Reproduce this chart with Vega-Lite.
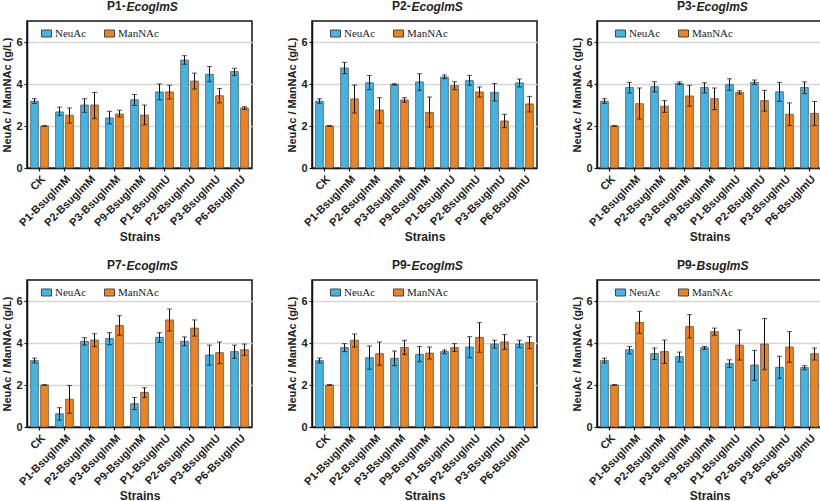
{
"$schema": "https://vega.github.io/schema/vega-lite/v6.json",
"padding": {"left": 1, "top": -1, "right": 2, "bottom": 2},
"background": "white",
"data": {"values": [
{"panel":"P1E","strain":"CK","type":"NeuAc","v":3.18,"lo":3.08,"hi":3.30},
{"panel":"P1E","strain":"CK","type":"ManNAc","v":2.00,"lo":1.99,"hi":2.01},
{"panel":"P1E","strain":"P1-BsuglmM","type":"NeuAc","v":2.67,"lo":2.50,"hi":2.90},
{"panel":"P1E","strain":"P1-BsuglmM","type":"ManNAc","v":2.51,"lo":2.14,"hi":2.86},
{"panel":"P1E","strain":"P2-BsuglmM","type":"NeuAc","v":3.00,"lo":2.65,"hi":3.30},
{"panel":"P1E","strain":"P2-BsuglmM","type":"ManNAc","v":3.00,"lo":2.35,"hi":3.60},
{"panel":"P1E","strain":"P3-BsuglmM","type":"NeuAc","v":2.38,"lo":2.10,"hi":2.70},
{"panel":"P1E","strain":"P3-BsuglmM","type":"ManNAc","v":2.57,"lo":2.43,"hi":2.75},
{"panel":"P1E","strain":"P9-BsuglmM","type":"NeuAc","v":3.25,"lo":2.98,"hi":3.50},
{"panel":"P1E","strain":"P9-BsuglmM","type":"ManNAc","v":2.52,"lo":2.06,"hi":3.00},
{"panel":"P1E","strain":"P1-BsuglmU","type":"NeuAc","v":3.62,"lo":3.25,"hi":4.00},
{"panel":"P1E","strain":"P1-BsuglmU","type":"ManNAc","v":3.62,"lo":3.29,"hi":3.94},
{"panel":"P1E","strain":"P2-BsuglmU","type":"NeuAc","v":5.14,"lo":4.94,"hi":5.35},
{"panel":"P1E","strain":"P2-BsuglmU","type":"ManNAc","v":4.14,"lo":3.76,"hi":4.52},
{"panel":"P1E","strain":"P3-BsuglmU","type":"NeuAc","v":4.46,"lo":4.11,"hi":4.83},
{"panel":"P1E","strain":"P3-BsuglmU","type":"ManNAc","v":3.44,"lo":3.10,"hi":3.79},
{"panel":"P1E","strain":"P6-BsuglmU","type":"NeuAc","v":4.59,"lo":4.40,"hi":4.75},
{"panel":"P1E","strain":"P6-BsuglmU","type":"ManNAc","v":2.86,"lo":2.79,"hi":2.92},

{"panel":"P2E","strain":"CK","type":"NeuAc","v":3.18,"lo":3.08,"hi":3.30},
{"panel":"P2E","strain":"CK","type":"ManNAc","v":2.00,"lo":1.99,"hi":2.01},
{"panel":"P2E","strain":"P1-BsuglmM","type":"NeuAc","v":4.76,"lo":4.49,"hi":5.03},
{"panel":"P2E","strain":"P1-BsuglmM","type":"ManNAc","v":3.29,"lo":2.62,"hi":3.95},
{"panel":"P2E","strain":"P2-BsuglmM","type":"NeuAc","v":4.06,"lo":3.73,"hi":4.41},
{"panel":"P2E","strain":"P2-BsuglmM","type":"ManNAc","v":2.76,"lo":2.14,"hi":3.35},
{"panel":"P2E","strain":"P3-BsuglmM","type":"NeuAc","v":3.98,"lo":3.95,"hi":4.01},
{"panel":"P2E","strain":"P3-BsuglmM","type":"ManNAc","v":3.24,"lo":3.13,"hi":3.35},
{"panel":"P2E","strain":"P9-BsuglmM","type":"NeuAc","v":4.10,"lo":3.70,"hi":4.49},
{"panel":"P2E","strain":"P9-BsuglmM","type":"ManNAc","v":2.65,"lo":1.95,"hi":3.38},
{"panel":"P2E","strain":"P1-BsuglmU","type":"NeuAc","v":4.33,"lo":4.25,"hi":4.43},
{"panel":"P2E","strain":"P1-BsuglmU","type":"ManNAc","v":3.92,"lo":3.73,"hi":4.11},
{"panel":"P2E","strain":"P2-BsuglmU","type":"NeuAc","v":4.16,"lo":3.94,"hi":4.41},
{"panel":"P2E","strain":"P2-BsuglmU","type":"ManNAc","v":3.62,"lo":3.38,"hi":3.86},
{"panel":"P2E","strain":"P3-BsuglmU","type":"NeuAc","v":3.60,"lo":3.19,"hi":4.02},
{"panel":"P2E","strain":"P3-BsuglmU","type":"ManNAc","v":2.24,"lo":1.92,"hi":2.56},
{"panel":"P2E","strain":"P6-BsuglmU","type":"NeuAc","v":4.05,"lo":3.86,"hi":4.24},
{"panel":"P2E","strain":"P6-BsuglmU","type":"ManNAc","v":3.05,"lo":2.67,"hi":3.41},

{"panel":"P3E","strain":"CK","type":"NeuAc","v":3.18,"lo":3.08,"hi":3.30},
{"panel":"P3E","strain":"CK","type":"ManNAc","v":2.00,"lo":1.99,"hi":2.01},
{"panel":"P3E","strain":"P1-BsuglmM","type":"NeuAc","v":3.83,"lo":3.57,"hi":4.08},
{"panel":"P3E","strain":"P1-BsuglmM","type":"ManNAc","v":3.06,"lo":2.33,"hi":3.81},
{"panel":"P3E","strain":"P2-BsuglmM","type":"NeuAc","v":3.87,"lo":3.62,"hi":4.11},
{"panel":"P3E","strain":"P2-BsuglmM","type":"ManNAc","v":2.94,"lo":2.65,"hi":3.21},
{"panel":"P3E","strain":"P3-BsuglmM","type":"NeuAc","v":4.03,"lo":3.97,"hi":4.10},
{"panel":"P3E","strain":"P3-BsuglmM","type":"ManNAc","v":3.43,"lo":2.94,"hi":3.94},
{"panel":"P3E","strain":"P9-BsuglmM","type":"NeuAc","v":3.83,"lo":3.57,"hi":4.06},
{"panel":"P3E","strain":"P9-BsuglmM","type":"ManNAc","v":3.30,"lo":2.78,"hi":3.81},
{"panel":"P3E","strain":"P1-BsuglmU","type":"NeuAc","v":3.97,"lo":3.70,"hi":4.25},
{"panel":"P3E","strain":"P1-BsuglmU","type":"ManNAc","v":3.60,"lo":3.52,"hi":3.68},
{"panel":"P3E","strain":"P2-BsuglmU","type":"NeuAc","v":4.08,"lo":3.97,"hi":4.19},
{"panel":"P3E","strain":"P2-BsuglmU","type":"ManNAc","v":3.21,"lo":2.71,"hi":3.70},
{"panel":"P3E","strain":"P3-BsuglmU","type":"NeuAc","v":3.63,"lo":3.17,"hi":4.08},
{"panel":"P3E","strain":"P3-BsuglmU","type":"ManNAc","v":2.56,"lo":2.02,"hi":3.10},
{"panel":"P3E","strain":"P6-BsuglmU","type":"NeuAc","v":3.83,"lo":3.54,"hi":4.10},
{"panel":"P3E","strain":"P6-BsuglmU","type":"ManNAc","v":2.60,"lo":2.02,"hi":3.17},

{"panel":"P7E","strain":"CK","type":"NeuAc","v":3.16,"lo":3.05,"hi":3.28},
{"panel":"P7E","strain":"CK","type":"ManNAc","v":2.00,"lo":1.99,"hi":2.01},
{"panel":"P7E","strain":"P1-BsuglmM","type":"NeuAc","v":0.63,"lo":0.33,"hi":0.92},
{"panel":"P7E","strain":"P1-BsuglmM","type":"ManNAc","v":1.32,"lo":0.65,"hi":1.98},
{"panel":"P7E","strain":"P2-BsuglmM","type":"NeuAc","v":4.08,"lo":3.90,"hi":4.25},
{"panel":"P7E","strain":"P2-BsuglmM","type":"ManNAc","v":4.14,"lo":3.83,"hi":4.44},
{"panel":"P7E","strain":"P3-BsuglmM","type":"NeuAc","v":4.21,"lo":3.92,"hi":4.49},
{"panel":"P7E","strain":"P3-BsuglmM","type":"ManNAc","v":4.83,"lo":4.37,"hi":5.30},
{"panel":"P7E","strain":"P9-BsuglmM","type":"NeuAc","v":1.11,"lo":0.83,"hi":1.40},
{"panel":"P7E","strain":"P9-BsuglmM","type":"ManNAc","v":1.65,"lo":1.41,"hi":1.87},
{"panel":"P7E","strain":"P1-BsuglmU","type":"NeuAc","v":4.27,"lo":4.03,"hi":4.49},
{"panel":"P7E","strain":"P1-BsuglmU","type":"ManNAc","v":5.10,"lo":4.57,"hi":5.62},
{"panel":"P7E","strain":"P2-BsuglmU","type":"NeuAc","v":4.08,"lo":3.87,"hi":4.29},
{"panel":"P7E","strain":"P2-BsuglmU","type":"ManNAc","v":4.71,"lo":4.33,"hi":5.10},
{"panel":"P7E","strain":"P3-BsuglmU","type":"NeuAc","v":3.43,"lo":2.94,"hi":3.90},
{"panel":"P7E","strain":"P3-BsuglmU","type":"ManNAc","v":3.54,"lo":3.02,"hi":4.05},
{"panel":"P7E","strain":"P6-BsuglmU","type":"NeuAc","v":3.59,"lo":3.27,"hi":3.90},
{"panel":"P7E","strain":"P6-BsuglmU","type":"ManNAc","v":3.68,"lo":3.41,"hi":3.95},

{"panel":"P9E","strain":"CK","type":"NeuAc","v":3.16,"lo":3.05,"hi":3.28},
{"panel":"P9E","strain":"CK","type":"ManNAc","v":2.00,"lo":1.99,"hi":2.01},
{"panel":"P9E","strain":"P1-BsuglmM","type":"NeuAc","v":3.78,"lo":3.59,"hi":3.97},
{"panel":"P9E","strain":"P1-BsuglmM","type":"ManNAc","v":4.13,"lo":3.81,"hi":4.43},
{"panel":"P9E","strain":"P2-BsuglmM","type":"NeuAc","v":3.30,"lo":2.75,"hi":3.86},
{"panel":"P9E","strain":"P2-BsuglmM","type":"ManNAc","v":3.49,"lo":2.94,"hi":4.05},
{"panel":"P9E","strain":"P3-BsuglmM","type":"NeuAc","v":3.27,"lo":2.92,"hi":3.62},
{"panel":"P9E","strain":"P3-BsuglmM","type":"ManNAc","v":3.79,"lo":3.46,"hi":4.13},
{"panel":"P9E","strain":"P9-BsuglmM","type":"NeuAc","v":3.46,"lo":3.11,"hi":3.83},
{"panel":"P9E","strain":"P9-BsuglmM","type":"ManNAc","v":3.52,"lo":3.24,"hi":3.81},
{"panel":"P9E","strain":"P1-BsuglmU","type":"NeuAc","v":3.59,"lo":3.49,"hi":3.67},
{"panel":"P9E","strain":"P1-BsuglmU","type":"ManNAc","v":3.78,"lo":3.60,"hi":3.97},
{"panel":"P9E","strain":"P2-BsuglmU","type":"NeuAc","v":3.81,"lo":3.30,"hi":4.30},
{"panel":"P9E","strain":"P2-BsuglmU","type":"ManNAc","v":4.27,"lo":3.56,"hi":4.97},
{"panel":"P9E","strain":"P3-BsuglmU","type":"NeuAc","v":3.95,"lo":3.76,"hi":4.13},
{"panel":"P9E","strain":"P3-BsuglmU","type":"ManNAc","v":4.05,"lo":3.70,"hi":4.40},
{"panel":"P9E","strain":"P6-BsuglmU","type":"NeuAc","v":3.95,"lo":3.78,"hi":4.13},
{"panel":"P9E","strain":"P6-BsuglmU","type":"ManNAc","v":4.02,"lo":3.73,"hi":4.30},

{"panel":"P9B","strain":"CK","type":"NeuAc","v":3.16,"lo":3.05,"hi":3.28},
{"panel":"P9B","strain":"CK","type":"ManNAc","v":2.00,"lo":1.99,"hi":2.01},
{"panel":"P9B","strain":"P1-BsuglmM","type":"NeuAc","v":3.68,"lo":3.48,"hi":3.84},
{"panel":"P9B","strain":"P1-BsuglmM","type":"ManNAc","v":4.98,"lo":4.46,"hi":5.51},
{"panel":"P9B","strain":"P2-BsuglmM","type":"NeuAc","v":3.50,"lo":3.22,"hi":3.76},
{"panel":"P9B","strain":"P2-BsuglmM","type":"ManNAc","v":3.59,"lo":3.03,"hi":4.14},
{"panel":"P9B","strain":"P3-BsuglmM","type":"NeuAc","v":3.35,"lo":3.10,"hi":3.57},
{"panel":"P9B","strain":"P3-BsuglmM","type":"ManNAc","v":4.79,"lo":4.24,"hi":5.35},
{"panel":"P9B","strain":"P9-BsuglmM","type":"NeuAc","v":3.78,"lo":3.70,"hi":3.84},
{"panel":"P9B","strain":"P9-BsuglmM","type":"ManNAc","v":4.54,"lo":4.37,"hi":4.71},
{"panel":"P9B","strain":"P1-BsuglmU","type":"NeuAc","v":3.02,"lo":2.84,"hi":3.20},
{"panel":"P9B","strain":"P1-BsuglmU","type":"ManNAc","v":3.90,"lo":3.19,"hi":4.62},
{"panel":"P9B","strain":"P2-BsuglmU","type":"NeuAc","v":2.95,"lo":2.22,"hi":3.65},
{"panel":"P9B","strain":"P2-BsuglmU","type":"ManNAc","v":3.95,"lo":2.73,"hi":5.17},
{"panel":"P9B","strain":"P3-BsuglmU","type":"NeuAc","v":2.84,"lo":2.32,"hi":3.37},
{"panel":"P9B","strain":"P3-BsuglmU","type":"ManNAc","v":3.81,"lo":3.08,"hi":4.54},
{"panel":"P9B","strain":"P6-BsuglmU","type":"NeuAc","v":2.83,"lo":2.73,"hi":2.92},
{"panel":"P9B","strain":"P6-BsuglmU","type":"ManNAc","v":3.49,"lo":3.19,"hi":3.76}
]},
"columns": 3,
"bounds": "flush",
"spacing": {"row": 112, "column": 60},
"resolve": {"scale": {"color": "independent"}, "legend": {"color": "independent"}},
"concat": [
{"transform":[{"filter":"datum.panel==='P1E'"}],
 "title":{"text":"P1-","anchor":"start","frame":"group","dx":80,"dy":22,"offset":0,"baseline":"alphabetic"},
 "width":225,"height":147,
 "resolve":{"axis":{"x":"independent"}},
 "layer":[
  {"mark":{"type":"bar","stroke":"#555","strokeWidth":0.8},
   "encoding":{
    "x":{"field":"strain","type":"nominal","sort":["CK","P1-BsuglmM","P2-BsuglmM","P3-BsuglmM","P9-BsuglmM","P1-BsuglmU","P2-BsuglmU","P3-BsuglmU","P6-BsuglmU"],"scale":{"paddingInner":0.29,"paddingOuter":0.145},"axis":{"orient":"bottom"},"title":"Strains"},
    "xOffset":{"field":"type","type":"nominal","sort":["NeuAc","ManNAc"],"scale":{"paddingInner":0.23}},
    "y":{"field":"v","type":"quantitative","scale":{"domain":[0,7],"nice":false},"axis":{"values":[0,2,4,6]},"title":"NeuAc / ManNAc (g/L)"},
    "color":{"field":"type","type":"nominal","scale":{"domain":["NeuAc","ManNAc"],"range":["#41B6E6","#F0821E"]},"legend":{"orient":"none","legendX":14,"legendY":7,"direction":"horizontal","title":null}}}},
  {"mark":{"type":"rule","color":"#111","strokeWidth":1},
   "encoding":{
    "x":{"field":"strain","type":"nominal","sort":["CK","P1-BsuglmM","P2-BsuglmM","P3-BsuglmM","P9-BsuglmM","P1-BsuglmU","P2-BsuglmU","P3-BsuglmU","P6-BsuglmU"],"axis":{"orient":"top","domain":false,"ticks":false,"labels":false,"grid":false,"title":"EcoglmS","titleFontStyle":"italic","titleX":99,"titleY":-11,"titleAlign":"left","titleBaseline":"alphabetic","titleFontSize":12}},
    "xOffset":{"field":"type","type":"nominal","sort":["NeuAc","ManNAc"]},
    "y":{"field":"lo","type":"quantitative","title":"NeuAc / ManNAc (g/L)"},"y2":{"field":"hi"}}},
  {"mark":{"type":"tick","color":"#111","thickness":1,"size":5},
   "encoding":{
    "x":{"field":"strain","type":"nominal","sort":["CK","P1-BsuglmM","P2-BsuglmM","P3-BsuglmM","P9-BsuglmM","P1-BsuglmU","P2-BsuglmU","P3-BsuglmU","P6-BsuglmU"],"axis":null},
    "xOffset":{"field":"type","type":"nominal","sort":["NeuAc","ManNAc"]},
    "y":{"field":"lo","type":"quantitative","title":"NeuAc / ManNAc (g/L)"}}},
  {"mark":{"type":"tick","color":"#111","thickness":1,"size":5},
   "encoding":{
    "x":{"field":"strain","type":"nominal","sort":["CK","P1-BsuglmM","P2-BsuglmM","P3-BsuglmM","P9-BsuglmM","P1-BsuglmU","P2-BsuglmU","P3-BsuglmU","P6-BsuglmU"],"axis":null},
    "xOffset":{"field":"type","type":"nominal","sort":["NeuAc","ManNAc"]},
    "y":{"field":"hi","type":"quantitative","title":"NeuAc / ManNAc (g/L)"}}}
 ]},
{"transform":[{"filter":"datum.panel==='P2E'"}],
 "title":{"text":"P2-","anchor":"start","frame":"group","dx":80,"dy":22,"offset":0,"baseline":"alphabetic"},
 "width":225,"height":147,
 "resolve":{"axis":{"x":"independent"}},
 "layer":[
  {"mark":{"type":"bar","stroke":"#555","strokeWidth":0.8},
   "encoding":{
    "x":{"field":"strain","type":"nominal","sort":["CK","P1-BsuglmM","P2-BsuglmM","P3-BsuglmM","P9-BsuglmM","P1-BsuglmU","P2-BsuglmU","P3-BsuglmU","P6-BsuglmU"],"scale":{"paddingInner":0.29,"paddingOuter":0.145},"axis":{"orient":"bottom"},"title":"Strains"},
    "xOffset":{"field":"type","type":"nominal","sort":["NeuAc","ManNAc"],"scale":{"paddingInner":0.23}},
    "y":{"field":"v","type":"quantitative","scale":{"domain":[0,7],"nice":false},"axis":{"values":[0,2,4,6]},"title":"NeuAc / ManNAc (g/L)"},
    "color":{"field":"type","type":"nominal","scale":{"domain":["NeuAc","ManNAc"],"range":["#41B6E6","#F0821E"]},"legend":{"orient":"none","legendX":18,"legendY":7,"direction":"horizontal","title":null}}}},
  {"mark":{"type":"rule","color":"#111","strokeWidth":1},
   "encoding":{
    "x":{"field":"strain","type":"nominal","sort":["CK","P1-BsuglmM","P2-BsuglmM","P3-BsuglmM","P9-BsuglmM","P1-BsuglmU","P2-BsuglmU","P3-BsuglmU","P6-BsuglmU"],"axis":{"orient":"top","domain":false,"ticks":false,"labels":false,"grid":false,"title":"EcoglmS","titleFontStyle":"italic","titleX":99,"titleY":-11,"titleAlign":"left","titleBaseline":"alphabetic","titleFontSize":12}},
    "xOffset":{"field":"type","type":"nominal","sort":["NeuAc","ManNAc"]},
    "y":{"field":"lo","type":"quantitative","title":"NeuAc / ManNAc (g/L)"},"y2":{"field":"hi"}}},
  {"mark":{"type":"tick","color":"#111","thickness":1,"size":5},
   "encoding":{
    "x":{"field":"strain","type":"nominal","sort":["CK","P1-BsuglmM","P2-BsuglmM","P3-BsuglmM","P9-BsuglmM","P1-BsuglmU","P2-BsuglmU","P3-BsuglmU","P6-BsuglmU"],"axis":null},
    "xOffset":{"field":"type","type":"nominal","sort":["NeuAc","ManNAc"]},
    "y":{"field":"lo","type":"quantitative","title":"NeuAc / ManNAc (g/L)"}}},
  {"mark":{"type":"tick","color":"#111","thickness":1,"size":5},
   "encoding":{
    "x":{"field":"strain","type":"nominal","sort":["CK","P1-BsuglmM","P2-BsuglmM","P3-BsuglmM","P9-BsuglmM","P1-BsuglmU","P2-BsuglmU","P3-BsuglmU","P6-BsuglmU"],"axis":null},
    "xOffset":{"field":"type","type":"nominal","sort":["NeuAc","ManNAc"]},
    "y":{"field":"hi","type":"quantitative","title":"NeuAc / ManNAc (g/L)"}}}
 ]},
{"transform":[{"filter":"datum.panel==='P3E'"}],
 "title":{"text":"P3-","anchor":"start","frame":"group","dx":80,"dy":22,"offset":0,"baseline":"alphabetic"},
 "width":225,"height":147,
 "resolve":{"axis":{"x":"independent"}},
 "layer":[
  {"mark":{"type":"bar","stroke":"#555","strokeWidth":0.8},
   "encoding":{
    "x":{"field":"strain","type":"nominal","sort":["CK","P1-BsuglmM","P2-BsuglmM","P3-BsuglmM","P9-BsuglmM","P1-BsuglmU","P2-BsuglmU","P3-BsuglmU","P6-BsuglmU"],"scale":{"paddingInner":0.29,"paddingOuter":0.145},"axis":{"orient":"bottom"},"title":"Strains"},
    "xOffset":{"field":"type","type":"nominal","sort":["NeuAc","ManNAc"],"scale":{"paddingInner":0.23}},
    "y":{"field":"v","type":"quantitative","scale":{"domain":[0,7],"nice":false},"axis":{"values":[0,2,4,6]},"title":"NeuAc / ManNAc (g/L)"},
    "color":{"field":"type","type":"nominal","scale":{"domain":["NeuAc","ManNAc"],"range":["#41B6E6","#F0821E"]},"legend":{"orient":"none","legendX":18,"legendY":7,"direction":"horizontal","title":null}}}},
  {"mark":{"type":"rule","color":"#111","strokeWidth":1},
   "encoding":{
    "x":{"field":"strain","type":"nominal","sort":["CK","P1-BsuglmM","P2-BsuglmM","P3-BsuglmM","P9-BsuglmM","P1-BsuglmU","P2-BsuglmU","P3-BsuglmU","P6-BsuglmU"],"axis":{"orient":"top","domain":false,"ticks":false,"labels":false,"grid":false,"title":"EcoglmS","titleFontStyle":"italic","titleX":99,"titleY":-11,"titleAlign":"left","titleBaseline":"alphabetic","titleFontSize":12}},
    "xOffset":{"field":"type","type":"nominal","sort":["NeuAc","ManNAc"]},
    "y":{"field":"lo","type":"quantitative","title":"NeuAc / ManNAc (g/L)"},"y2":{"field":"hi"}}},
  {"mark":{"type":"tick","color":"#111","thickness":1,"size":5},
   "encoding":{
    "x":{"field":"strain","type":"nominal","sort":["CK","P1-BsuglmM","P2-BsuglmM","P3-BsuglmM","P9-BsuglmM","P1-BsuglmU","P2-BsuglmU","P3-BsuglmU","P6-BsuglmU"],"axis":null},
    "xOffset":{"field":"type","type":"nominal","sort":["NeuAc","ManNAc"]},
    "y":{"field":"lo","type":"quantitative","title":"NeuAc / ManNAc (g/L)"}}},
  {"mark":{"type":"tick","color":"#111","thickness":1,"size":5},
   "encoding":{
    "x":{"field":"strain","type":"nominal","sort":["CK","P1-BsuglmM","P2-BsuglmM","P3-BsuglmM","P9-BsuglmM","P1-BsuglmU","P2-BsuglmU","P3-BsuglmU","P6-BsuglmU"],"axis":null},
    "xOffset":{"field":"type","type":"nominal","sort":["NeuAc","ManNAc"]},
    "y":{"field":"hi","type":"quantitative","title":"NeuAc / ManNAc (g/L)"}}}
 ]},
{"transform":[{"filter":"datum.panel==='P7E'"}],
 "title":{"text":"P7-","anchor":"start","frame":"group","dx":80,"dy":22,"offset":0,"baseline":"alphabetic"},
 "width":225,"height":147,
 "resolve":{"axis":{"x":"independent"}},
 "layer":[
  {"mark":{"type":"bar","stroke":"#555","strokeWidth":0.8},
   "encoding":{
    "x":{"field":"strain","type":"nominal","sort":["CK","P1-BsuglmM","P2-BsuglmM","P3-BsuglmM","P9-BsuglmM","P1-BsuglmU","P2-BsuglmU","P3-BsuglmU","P6-BsuglmU"],"scale":{"paddingInner":0.29,"paddingOuter":0.145},"axis":{"orient":"bottom"},"title":"Strains"},
    "xOffset":{"field":"type","type":"nominal","sort":["NeuAc","ManNAc"],"scale":{"paddingInner":0.23}},
    "y":{"field":"v","type":"quantitative","scale":{"domain":[0,7],"nice":false},"axis":{"values":[0,2,4,6]},"title":"NeuAc / ManNAc (g/L)"},
    "color":{"field":"type","type":"nominal","scale":{"domain":["NeuAc","ManNAc"],"range":["#41B6E6","#F0821E"]},"legend":{"orient":"none","legendX":14,"legendY":7,"direction":"horizontal","title":null}}}},
  {"mark":{"type":"rule","color":"#111","strokeWidth":1},
   "encoding":{
    "x":{"field":"strain","type":"nominal","sort":["CK","P1-BsuglmM","P2-BsuglmM","P3-BsuglmM","P9-BsuglmM","P1-BsuglmU","P2-BsuglmU","P3-BsuglmU","P6-BsuglmU"],"axis":{"orient":"top","domain":false,"ticks":false,"labels":false,"grid":false,"title":"EcoglmS","titleFontStyle":"italic","titleX":99,"titleY":-11,"titleAlign":"left","titleBaseline":"alphabetic","titleFontSize":12}},
    "xOffset":{"field":"type","type":"nominal","sort":["NeuAc","ManNAc"]},
    "y":{"field":"lo","type":"quantitative","title":"NeuAc / ManNAc (g/L)"},"y2":{"field":"hi"}}},
  {"mark":{"type":"tick","color":"#111","thickness":1,"size":5},
   "encoding":{
    "x":{"field":"strain","type":"nominal","sort":["CK","P1-BsuglmM","P2-BsuglmM","P3-BsuglmM","P9-BsuglmM","P1-BsuglmU","P2-BsuglmU","P3-BsuglmU","P6-BsuglmU"],"axis":null},
    "xOffset":{"field":"type","type":"nominal","sort":["NeuAc","ManNAc"]},
    "y":{"field":"lo","type":"quantitative","title":"NeuAc / ManNAc (g/L)"}}},
  {"mark":{"type":"tick","color":"#111","thickness":1,"size":5},
   "encoding":{
    "x":{"field":"strain","type":"nominal","sort":["CK","P1-BsuglmM","P2-BsuglmM","P3-BsuglmM","P9-BsuglmM","P1-BsuglmU","P2-BsuglmU","P3-BsuglmU","P6-BsuglmU"],"axis":null},
    "xOffset":{"field":"type","type":"nominal","sort":["NeuAc","ManNAc"]},
    "y":{"field":"hi","type":"quantitative","title":"NeuAc / ManNAc (g/L)"}}}
 ]},
{"transform":[{"filter":"datum.panel==='P9E'"}],
 "title":{"text":"P9-","anchor":"start","frame":"group","dx":80,"dy":22,"offset":0,"baseline":"alphabetic"},
 "width":225,"height":147,
 "resolve":{"axis":{"x":"independent"}},
 "layer":[
  {"mark":{"type":"bar","stroke":"#555","strokeWidth":0.8},
   "encoding":{
    "x":{"field":"strain","type":"nominal","sort":["CK","P1-BsuglmM","P2-BsuglmM","P3-BsuglmM","P9-BsuglmM","P1-BsuglmU","P2-BsuglmU","P3-BsuglmU","P6-BsuglmU"],"scale":{"paddingInner":0.29,"paddingOuter":0.145},"axis":{"orient":"bottom"},"title":"Strains"},
    "xOffset":{"field":"type","type":"nominal","sort":["NeuAc","ManNAc"],"scale":{"paddingInner":0.23}},
    "y":{"field":"v","type":"quantitative","scale":{"domain":[0,7],"nice":false},"axis":{"values":[0,2,4,6]},"title":"NeuAc / ManNAc (g/L)"},
    "color":{"field":"type","type":"nominal","scale":{"domain":["NeuAc","ManNAc"],"range":["#41B6E6","#F0821E"]},"legend":{"orient":"none","legendX":18,"legendY":7,"direction":"horizontal","title":null}}}},
  {"mark":{"type":"rule","color":"#111","strokeWidth":1},
   "encoding":{
    "x":{"field":"strain","type":"nominal","sort":["CK","P1-BsuglmM","P2-BsuglmM","P3-BsuglmM","P9-BsuglmM","P1-BsuglmU","P2-BsuglmU","P3-BsuglmU","P6-BsuglmU"],"axis":{"orient":"top","domain":false,"ticks":false,"labels":false,"grid":false,"title":"EcoglmS","titleFontStyle":"italic","titleX":99,"titleY":-11,"titleAlign":"left","titleBaseline":"alphabetic","titleFontSize":12}},
    "xOffset":{"field":"type","type":"nominal","sort":["NeuAc","ManNAc"]},
    "y":{"field":"lo","type":"quantitative","title":"NeuAc / ManNAc (g/L)"},"y2":{"field":"hi"}}},
  {"mark":{"type":"tick","color":"#111","thickness":1,"size":5},
   "encoding":{
    "x":{"field":"strain","type":"nominal","sort":["CK","P1-BsuglmM","P2-BsuglmM","P3-BsuglmM","P9-BsuglmM","P1-BsuglmU","P2-BsuglmU","P3-BsuglmU","P6-BsuglmU"],"axis":null},
    "xOffset":{"field":"type","type":"nominal","sort":["NeuAc","ManNAc"]},
    "y":{"field":"lo","type":"quantitative","title":"NeuAc / ManNAc (g/L)"}}},
  {"mark":{"type":"tick","color":"#111","thickness":1,"size":5},
   "encoding":{
    "x":{"field":"strain","type":"nominal","sort":["CK","P1-BsuglmM","P2-BsuglmM","P3-BsuglmM","P9-BsuglmM","P1-BsuglmU","P2-BsuglmU","P3-BsuglmU","P6-BsuglmU"],"axis":null},
    "xOffset":{"field":"type","type":"nominal","sort":["NeuAc","ManNAc"]},
    "y":{"field":"hi","type":"quantitative","title":"NeuAc / ManNAc (g/L)"}}}
 ]},
{"transform":[{"filter":"datum.panel==='P9B'"}],
 "title":{"text":"P9-","anchor":"start","frame":"group","dx":80,"dy":22,"offset":0,"baseline":"alphabetic"},
 "width":225,"height":147,
 "resolve":{"axis":{"x":"independent"}},
 "layer":[
  {"mark":{"type":"bar","stroke":"#555","strokeWidth":0.8},
   "encoding":{
    "x":{"field":"strain","type":"nominal","sort":["CK","P1-BsuglmM","P2-BsuglmM","P3-BsuglmM","P9-BsuglmM","P1-BsuglmU","P2-BsuglmU","P3-BsuglmU","P6-BsuglmU"],"scale":{"paddingInner":0.29,"paddingOuter":0.145},"axis":{"orient":"bottom"},"title":"Strains"},
    "xOffset":{"field":"type","type":"nominal","sort":["NeuAc","ManNAc"],"scale":{"paddingInner":0.23}},
    "y":{"field":"v","type":"quantitative","scale":{"domain":[0,7],"nice":false},"axis":{"values":[0,2,4,6]},"title":"NeuAc / ManNAc (g/L)"},
    "color":{"field":"type","type":"nominal","scale":{"domain":["NeuAc","ManNAc"],"range":["#41B6E6","#F0821E"]},"legend":{"orient":"none","legendX":18,"legendY":7,"direction":"horizontal","title":null}}}},
  {"mark":{"type":"rule","color":"#111","strokeWidth":1},
   "encoding":{
    "x":{"field":"strain","type":"nominal","sort":["CK","P1-BsuglmM","P2-BsuglmM","P3-BsuglmM","P9-BsuglmM","P1-BsuglmU","P2-BsuglmU","P3-BsuglmU","P6-BsuglmU"],"axis":{"orient":"top","domain":false,"ticks":false,"labels":false,"grid":false,"title":"BsuglmS","titleFontStyle":"italic","titleX":99,"titleY":-11,"titleAlign":"left","titleBaseline":"alphabetic","titleFontSize":12}},
    "xOffset":{"field":"type","type":"nominal","sort":["NeuAc","ManNAc"]},
    "y":{"field":"lo","type":"quantitative","title":"NeuAc / ManNAc (g/L)"},"y2":{"field":"hi"}}},
  {"mark":{"type":"tick","color":"#111","thickness":1,"size":5},
   "encoding":{
    "x":{"field":"strain","type":"nominal","sort":["CK","P1-BsuglmM","P2-BsuglmM","P3-BsuglmM","P9-BsuglmM","P1-BsuglmU","P2-BsuglmU","P3-BsuglmU","P6-BsuglmU"],"axis":null},
    "xOffset":{"field":"type","type":"nominal","sort":["NeuAc","ManNAc"]},
    "y":{"field":"lo","type":"quantitative","title":"NeuAc / ManNAc (g/L)"}}},
  {"mark":{"type":"tick","color":"#111","thickness":1,"size":5},
   "encoding":{
    "x":{"field":"strain","type":"nominal","sort":["CK","P1-BsuglmM","P2-BsuglmM","P3-BsuglmM","P9-BsuglmM","P1-BsuglmU","P2-BsuglmU","P3-BsuglmU","P6-BsuglmU"],"axis":null},
    "xOffset":{"field":"type","type":"nominal","sort":["NeuAc","ManNAc"]},
    "y":{"field":"hi","type":"quantitative","title":"NeuAc / ManNAc (g/L)"}}}
 ]}
],
"config": {
 "font": "Liberation Sans",
 "view": {"stroke": "#111", "strokeWidth": 1.5},
 "axis": {"domainColor": "#111", "domainWidth": 1.5, "tickColor": "#111", "tickWidth": 1.2, "tickSize": 3,
          "labelFont": "Liberation Sans", "labelFontWeight": "bold", "labelFontSize": 11, "labelColor": "#222", "labelPadding": 2,
          "titleFont": "Liberation Sans", "titleFontWeight": "bold", "titleFontSize": 11, "titleColor": "#222",
          "gridColor": "#d6d6d6", "gridWidth": 1.5},
 "axisX": {"grid": false, "labelAngle": -45, "titleFontSize": 12, "titlePadding": 4},
 "axisY": {"titlePadding": 3},
 "title": {"font": "Liberation Sans", "fontSize": 12, "fontWeight": "bold", "color": "#222"},
 "legend": {"symbolType": "M-1,-0.7H1V0.7H-1Z", "symbolSize": 100, "symbolStrokeColor": "#444", "symbolStrokeWidth": 1,
            "labelFont": "Liberation Serif", "labelFontSize": 11, "labelColor": "#222", "labelOffset": 3, "columnPadding": 15, "padding": 0}
}
}
